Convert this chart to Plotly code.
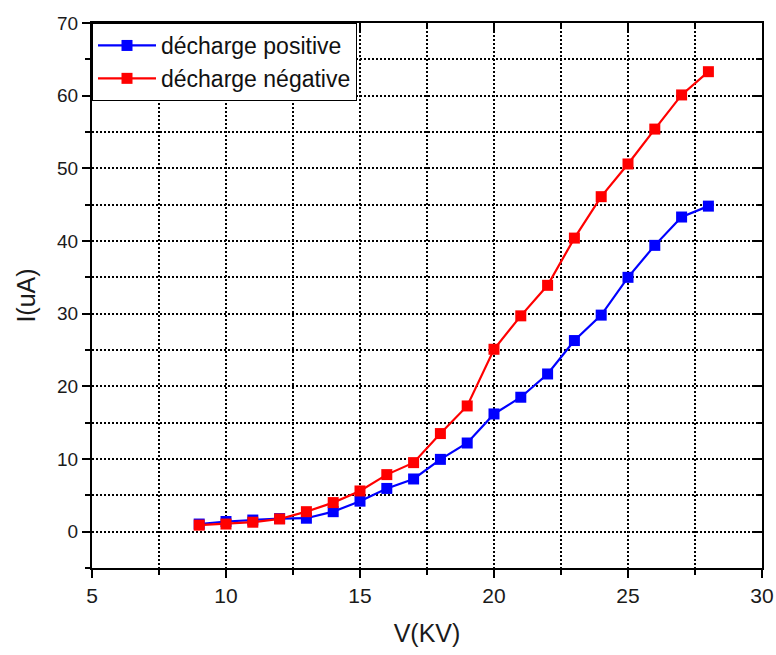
import plotly.graph_objects as go

voltage = [9, 10, 11, 12, 13, 14, 15, 16, 17, 18, 19, 20, 21, 22, 23, 24, 25, 26, 27, 28]
i_positive = [1.05, 1.4, 1.6, 1.8, 1.85, 2.75, 4.2, 5.95, 7.25, 9.95, 12.2, 16.2, 18.5, 21.7, 26.3, 29.8, 35.0, 39.4, 43.3, 44.8]
i_negative = [0.9, 1.05, 1.3, 1.75, 2.75, 4.0, 5.6, 7.85, 9.5, 13.5, 17.3, 25.1, 29.7, 33.9, 40.4, 46.1, 50.6, 55.4, 60.1, 63.3]

names = ["décharge positive", "décharge négative"]
colors = ["#0000ff", "#ff0000"]

FONT = "Liberation Sans, Arial, sans-serif"
NARROW = "Liberation Sans Narrow, Arial Narrow, Liberation Sans, sans-serif"
DOT = "2px,2px"

fig = go.Figure()
for name, ys, c in zip(names, [i_positive, i_negative], colors):
    fig.add_trace(go.Scatter(
        x=voltage, y=ys, name=name, mode="lines+markers",
        line=dict(color=c, width=2.2),
        marker=dict(symbol="square", size=11, color=c),
    ))

grid = dict(showgrid=True, gridcolor="black", griddash=DOT, gridwidth=1.6)

fig.update_layout(
    width=776, height=655,
    margin=dict(l=92, r=14, t=23, b=87),
    paper_bgcolor="white", plot_bgcolor="white",
    font=dict(family=FONT, color="#1a1a1a", size=19),
    showlegend=True,
    legend=dict(x=0, y=1, xanchor="left", yanchor="top",
                bgcolor="white", bordercolor="black", borderwidth=1,
                font=dict(size=23, family=FONT, color="#111111"),
                tracegroupgap=0, itemwidth=58),
    xaxis=dict(
        range=[5, 30], dtick=5, tick0=5, ticks="outside", ticklen=8, tickwidth=2,
        tickcolor="black", showline=True, linecolor="black", linewidth=2,
        mirror=True, zeroline=False, automargin=False,
        tickfont=dict(size=21, family=NARROW, color="#1a1a1a"),
        title=dict(text="V(KV)", font=dict(size=25, family=NARROW), standoff=18),
        minor=dict(dtick=2.5, ticks="outside", ticklen=5, tickwidth=1.5,
                   tickcolor="black", showgrid=True, gridcolor="black",
                   griddash=DOT, gridwidth=1.6),
        **grid,
    ),
    yaxis=dict(
        range=[-5, 70], dtick=10, tick0=0, ticks="outside", ticklen=8, tickwidth=2,
        tickcolor="black", showline=True, linecolor="black", linewidth=2,
        mirror=True, zeroline=False, automargin=False,
        tickfont=dict(size=19, family=FONT, color="#1a1a1a"),
        title=dict(text="I(uA)", font=dict(size=25, family=FONT), standoff=14),
        minor=dict(dtick=5, ticks="outside", ticklen=5, tickwidth=1.5,
                   tickcolor="black", showgrid=True, gridcolor="black",
                   griddash=DOT, gridwidth=1.6),
        **grid,
    ),
    xaxis2=dict(
        overlaying="x", side="top", matches="x", range=[5, 30], dtick=5, tick0=5,
        ticks="inside", ticklen=8, tickwidth=2, tickcolor="black", automargin=False,
        showticklabels=False, showgrid=False, zeroline=False,
        minor=dict(dtick=2.5, ticks="inside", ticklen=5, tickwidth=1.5, tickcolor="black"),
    ),
    yaxis2=dict(
        overlaying="y", side="right", matches="y", range=[-5, 70], dtick=10, tick0=0,
        ticks="inside", ticklen=8, tickwidth=2, tickcolor="black", automargin=False,
        showticklabels=False, showgrid=False, zeroline=False,
        minor=dict(dtick=5, ticks="inside", ticklen=5, tickwidth=1.5, tickcolor="black"),
    ),
)

# invisible helper trace so the mirrored tick axes are drawn
fig.add_trace(go.Scatter(x=[voltage[0]], y=[i_positive[0]], xaxis="x2", yaxis="y2",
                         mode="markers", marker=dict(opacity=0), showlegend=False,
                         hoverinfo="skip"))

fig.write_html("out.html")
